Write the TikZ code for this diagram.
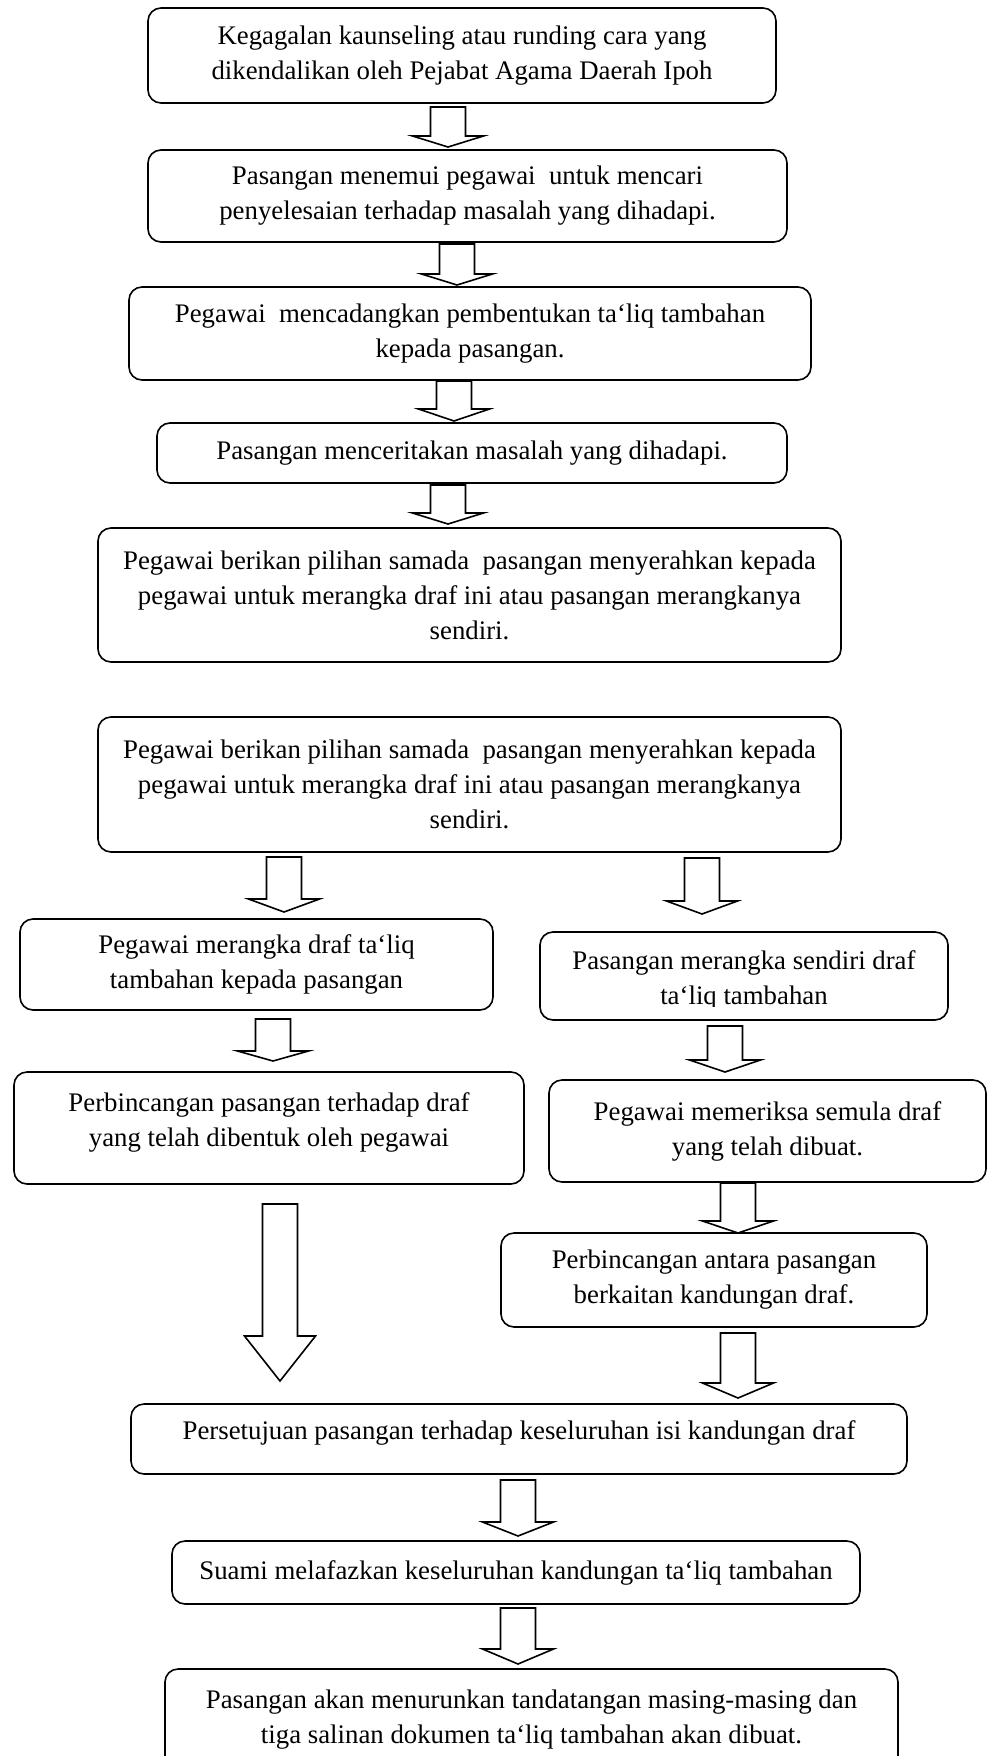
\documentclass[tikz,border=0pt]{standalone}
\usepackage{fontspec}
\setmainfont{Liberation Serif}
\begin{document}
\begin{tikzpicture}
  [x=0.5pt,y=-0.5pt,line width=0.8pt,
   every node/.style={font=\fontsize{13.4}{17.5}\selectfont,align=center},
   box/.style={draw,rounded corners=6.5pt,inner sep=0pt},
   fatarrow/.style={draw,fill=white,line join=miter}]
  \useasboundingbox (0,0) rectangle (987,1756);
  \clip (0,0) rectangle (987,1756);

  \node[box,minimum width=314pt,minimum height=47.5pt] (b1) at (462,55.5)
    {Kegagalan kaunseling atau runding cara yang\\dikendalikan oleh Pejabat Agama Daerah Ipoh};
  \node[box,minimum width=319.5pt,minimum height=46pt] (b2) at (467.5,196)
    {Pasangan menemui pegawai\ \ untuk mencari\\penyelesaian terhadap masalah yang dihadapi.};
  \node[box,minimum width=341pt,minimum height=46.5pt] (b3) at (470,333.5)
    {Pegawai\ \ mencadangkan pembentukan ta‘liq tambahan\\kepada pasangan.};
  \node[box,minimum width=315pt,minimum height=30pt] (b4) at (472,453)
    {Pasangan menceritakan masalah yang dihadapi.};
  \node[box,minimum width=371.5pt,minimum height=67pt] (b5) at (469.5,595)
    {Pegawai berikan pilihan samada\ \ pasangan menyerahkan kepada\\pegawai untuk merangka draf ini atau pasangan merangkanya\\sendiri.};
  \node[box,minimum width=371.5pt,minimum height=67.5pt] (b6) at (469.5,784.5)
    {Pegawai berikan pilihan samada\ \ pasangan menyerahkan kepada\\pegawai untuk merangka draf ini atau pasangan merangkanya\\sendiri.};

  % left branch
  \node[box,minimum width=236.5pt,minimum height=45.5pt] (b7L) at (256.5,964.5)
    {Pegawai merangka draf ta‘liq\\tambahan kepada pasangan};
  \node[box,minimum width=255pt,minimum height=56pt,text depth=8.4pt] (b8L) at (269,1128)
    {Perbincangan pasangan terhadap draf\\yang telah dibentuk oleh pegawai};

  % right branch
  \node[box,minimum width=204pt,minimum height=44pt] (b7R) at (744,976) {};
  \begin{scope}
    \clip (540,932) rectangle (948,1006);
    \node (t7R) at (744,980) {Pasangan merangka sendiri draf\\ta‘liq tambahan};
  \end{scope}
  \node[box,minimum width=218.5pt,minimum height=51pt] (b8R) at (767.5,1131)
    {Pegawai memeriksa semula draf\\yang telah dibuat.};
  \node[box,minimum width=213pt,minimum height=47pt] (b9R) at (714,1280)
    {Perbincangan antara pasangan\\berkaitan kandungan draf.};

  \node[box,minimum width=388pt,minimum height=35pt,text depth=9pt] (b10) at (519,1439)
    {Persetujuan pasangan terhadap keseluruhan isi kandungan draf};
  \node[box,minimum width=344pt,minimum height=31.5pt] (b11) at (516,1572.5)
    {Suami melafazkan keseluruhan kandungan ta‘liq tambahan};
  \node[box,minimum width=366.5pt,minimum height=50.5pt] (b12) at (531.5,1719.5)
    {Pasangan akan menurunkan tandatangan masing-masing dan\\tiga salinan dokumen ta‘liq tambahan akan dibuat.};

  % block arrows: centre x / top / wings / tip
  \foreach \cx/\ya/\yb/\yc in {448/107/136/147, 457/244/274/285, 454/381/409/421,
      448/485/513/524, 284/857/899/912, 702/858/901/914, 273/1019/1051/1061,
      725/1026/1060/1072, 280/1204/1336/1381, 738/1183/1221/1233,
      738/1333/1383/1398, 518/1480/1522/1536, 518/1608/1649/1664}
    \draw[fatarrow] ({\cx-17.5},\ya) -- ({\cx+17.5},\ya) -- ({\cx+17.5},\yb)
      -- ({\cx+35.5},\yb) -- (\cx,\yc) -- ({\cx-35.5},\yb) -- ({\cx-17.5},\yb) -- cycle;
\end{tikzpicture}
\end{document}
